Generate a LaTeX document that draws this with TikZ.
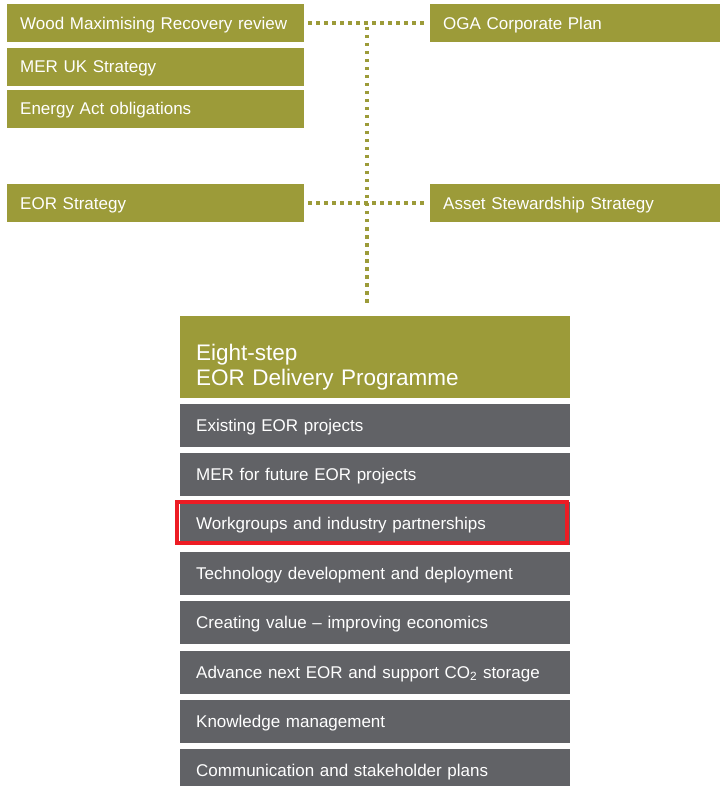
\documentclass[tikz,border=0pt]{standalone}
\usepackage{fontspec}
\setmainfont{Liberation Sans}
\usetikzlibrary{positioning,chains}
\definecolor{olivebar}{RGB}{156,155,57}
\definecolor{slatebar}{RGB}{97,98,102}
\definecolor{markred}{RGB}{237,28,36}
\tikzset{%
  font=\fontsize{17}{20}\selectfont,
  plan item/.style={rectangle,fill=olivebar,text=white,align=left,
    inner xsep=13pt,inner ysep=0pt,minimum height=38pt,
    text height=12pt,text depth=0pt},
  left item/.style={plan item,text width=271pt},
  right item/.style={plan item,text width=264pt},
  step item/.style={rectangle,fill=slatebar,text=white,align=left,
    text width=358pt,inner xsep=16pt,inner ysep=0pt,minimum height=43pt,
    text height=12pt,text depth=0pt},
  programme box/.style={rectangle,fill=olivebar,text=white,align=left,
    text width=358pt,inner xsep=16pt,inner ysep=0pt,
    font=\fontsize{22.5}{25}\selectfont,text height=44pt,text depth=38pt},
  dot link/.style={draw=olivebar,line width=4.5pt,dash pattern=on 3.5pt off 4.5pt},
  highlight/.style={draw=markred,line width=4pt}
}

\begin{document}
\begin{tikzpicture}[x=1pt,y=-1pt]
	\useasboundingbox (0,0) rectangle (720,786);

	% inputs to the programme
	\node[left item,anchor=north west] (wood) at (7,4) {Wood Maximising Recovery review};
	\node[left item,below=5pt of wood] (merstrat) {MER UK Strategy};
	\node[left item,below=4pt of merstrat] (energyact) {Energy Act obligations};
	\node[left item,anchor=north west] (eorstrat) at (7,184) {EOR Strategy};
	\node[right item,anchor=north west] (ogaplan) at (430,4) {OGA Corporate Plan};
	\node[right item,anchor=north west] (stewardship) at (430,184) {Asset Stewardship Strategy};

	% the programme and its eight steps
	\node[programme box,anchor=north west] (deliv) at (180,316) {Eight-step\\EOR Delivery Programme};
	\begin{scope}[start chain=steps going below,node distance=6pt,every node/.append style={step item,on chain}]
	\node[below=5pt of deliv] (s1) {Existing EOR projects};
	\node (s2) {MER for future EOR projects};
	\node (s3) {Workgroups and industry partnerships};
	\node (s4) {Technology development and deployment};
	\node (s5) {Creating value -- improving economics};
	\node (s6) {Advance next EOR and support CO\textsubscript{2} storage};
	\node (s7) {Knowledge management};
	\node (s8) {Communication and stakeholder plans};
	\end{scope}

	% dotted links
	\coordinate (hub) at (367,23);
	\draw[dot link,shorten <=4pt,shorten >=4pt] (wood.east) -- (ogaplan.west);
	\draw[dot link,shorten <=4pt,shorten >=4pt] (eorstrat.east) -- (stewardship.west);
	\draw[dot link,shorten <=4pt,shorten >=13pt] (hub) -- (hub |- deliv.north);

	\draw[highlight] ([xshift=-3pt]s3.north west) rectangle ([xshift=-3pt,yshift=3pt]s3.south east);
\end{tikzpicture}
\end{document}
